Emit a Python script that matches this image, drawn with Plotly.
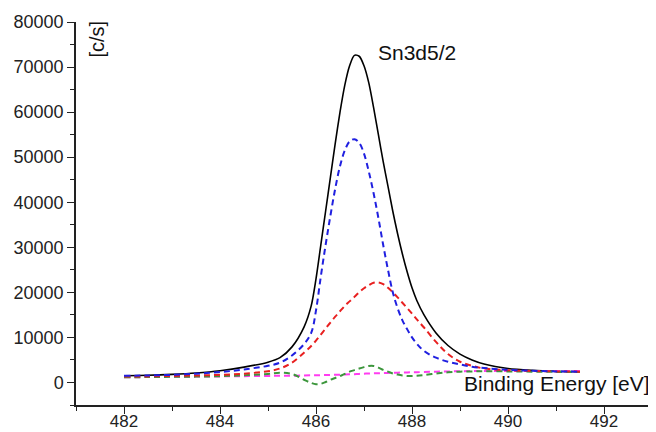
import plotly.graph_objects as go

energy = [482, 482.5, 483, 483.5, 484, 484.5, 485, 485.25, 485.5, 485.75, 485.9, 486.0, 486.1,
          486.2, 486.3, 486.4, 486.5, 486.6, 486.7, 486.8, 486.9, 487.0, 487.1, 487.2, 487.3,
          487.4, 487.5, 487.6, 487.7, 487.8, 487.9, 488.0, 488.1, 488.25, 488.5, 488.75, 489.0,
          489.25, 489.5, 490.0, 490.5, 491.0, 491.5]

total = [1500, 1600, 1800, 2100, 2600, 3400, 4500, 5500, 7900, 12300, 17000, 23000, 30500,
         38000, 45500, 53000, 60000, 66000, 70300, 72600, 72400, 70300, 66500, 61000, 55000,
         49000, 43500, 38000, 33000, 28500, 24500, 21000, 18200, 15000, 11000, 8200, 6300,
         5000, 4100, 3100, 2700, 2500, 2400]

comp1 = [1500, 1550, 1700, 1950, 2300, 2900, 3700, 4400, 6000, 8500, 11000, 16000, 23500,
         30500, 37000, 43000, 48000, 51500, 53500, 54000, 53200, 50800, 46800, 42000, 36500,
         30500, 25000, 20000, 16500, 13800, 11800, 10000, 8600, 7000, 5500, 4600, 4000,
         3500, 3200, 2800, 2600, 2450, 2400]

comp2 = [1300, 1350, 1450, 1550, 1700, 1950, 2500, 3100, 4400, 6600, 8100, 9300, 10600,
         12000, 13300, 14600, 15800, 17000, 18000, 19000, 20000, 20900, 21600, 22150, 22200,
         21800, 21000, 20000, 18900, 17700, 16500, 15300, 14000, 12200, 9000, 6300, 4600,
         3700, 3100, 2700, 2550, 2450, 2400]

residual = [1150, 1200, 1250, 1300, 1400, 1600, 1900, 2150, 1900, 600, -100, -400, -300,
            100, 600, 1000, 1400, 1900, 2400, 2750, 3100, 3400, 3650, 3650, 3300,
            2800, 2400, 2000, 1750, 1550, 1450, 1450, 1500, 1650, 2000, 2250, 2400,
            2450, 2500, 2450, 2400, 2350, 2300]

background = [1150, 1200, 1250, 1300, 1350, 1400, 1450, 1480, 1500, 1550, 1580, 1600, 1620,
              1650, 1680, 1700, 1730, 1760, 1800, 1850, 1900, 1950, 2000, 2030, 2060,
              2100, 2120, 2150, 2180, 2200, 2230, 2250, 2280, 2320, 2400, 2450, 2500,
              2530, 2550, 2550, 2550, 2550, 2550]

x_ticks = [482, 484, 486, 488, 490, 492]
y_ticks = [0, 10000, 20000, 30000, 40000, 50000, 60000, 70000, 80000]

fig = go.Figure()
dash = "6px,4px"
fig.add_trace(go.Scatter(x=energy, y=total, mode="lines", line=dict(color="#000000", width=1.6, shape="spline", smoothing=0.8)))
fig.add_trace(go.Scatter(x=energy, y=background, mode="lines", line=dict(color="#ff3cf0", width=2, dash=dash, shape="spline")))
fig.add_trace(go.Scatter(x=energy, y=residual, mode="lines", line=dict(color="#3c963c", width=2, dash=dash, shape="spline")))
fig.add_trace(go.Scatter(x=energy, y=comp2, mode="lines", line=dict(color="#e82020", width=2, dash=dash, shape="spline")))
fig.add_trace(go.Scatter(x=energy, y=comp1, mode="lines", line=dict(color="#2020e0", width=2, dash=dash, shape="spline")))

font = "Liberation Sans, Arial, sans-serif"
fig.update_layout(
    width=648, height=424,
    margin=dict(l=68, r=4, t=14, b=27, autoexpand=False),
    paper_bgcolor="white", plot_bgcolor="white",
    showlegend=False,
    font=dict(family=font, color="#222222", size=18),
    xaxis=dict(range=[481, 493], tickvals=x_ticks, ticks="outside", ticklen=7, tickwidth=1.3,
               tickcolor="#222", showline=True, linecolor="#222", linewidth=1.5, showgrid=False,
               zeroline=False, automargin=False, tickfont=dict(size=17, family=font),
               ticklabelstandoff=-7,
               minor=dict(ticks="outside", ticklen=4, dtick=1, tick0=481, tickcolor="#222", tickwidth=1.3)),
    yaxis=dict(range=[-5000, 80000], tickvals=y_ticks, ticks="outside", ticklen=7, tickwidth=1.3,
               tickcolor="#222", showline=True, linecolor="#222", linewidth=1.5, showgrid=False,
               zeroline=False, automargin=False, tickfont=dict(size=18, family=font), tickformat="d",
               minor=dict(ticks="outside", ticklen=4, dtick=5000, tick0=-5000, tickcolor="#222", tickwidth=1.3)),
    annotations=[
        dict(text="Sn3d5/2", x=0.592, y=0.92, xref="paper", yref="paper", showarrow=False,
             xanchor="center", yanchor="middle", font=dict(size=21, family=font, color="#111")),
        dict(text="Binding Energy [eV]", x=1.0, y=0.057, xref="paper", yref="paper", showarrow=False,
             xanchor="right", yanchor="middle", font=dict(size=21, family=font, color="#111")),
        dict(text="[c/s]", x=0.0373, y=0.9556, xref="paper", yref="paper", showarrow=False,
             textangle=-90, xanchor="center", yanchor="middle", font=dict(size=20, family=font, color="#111")),
    ],
)
fig.write_html("out.html")
